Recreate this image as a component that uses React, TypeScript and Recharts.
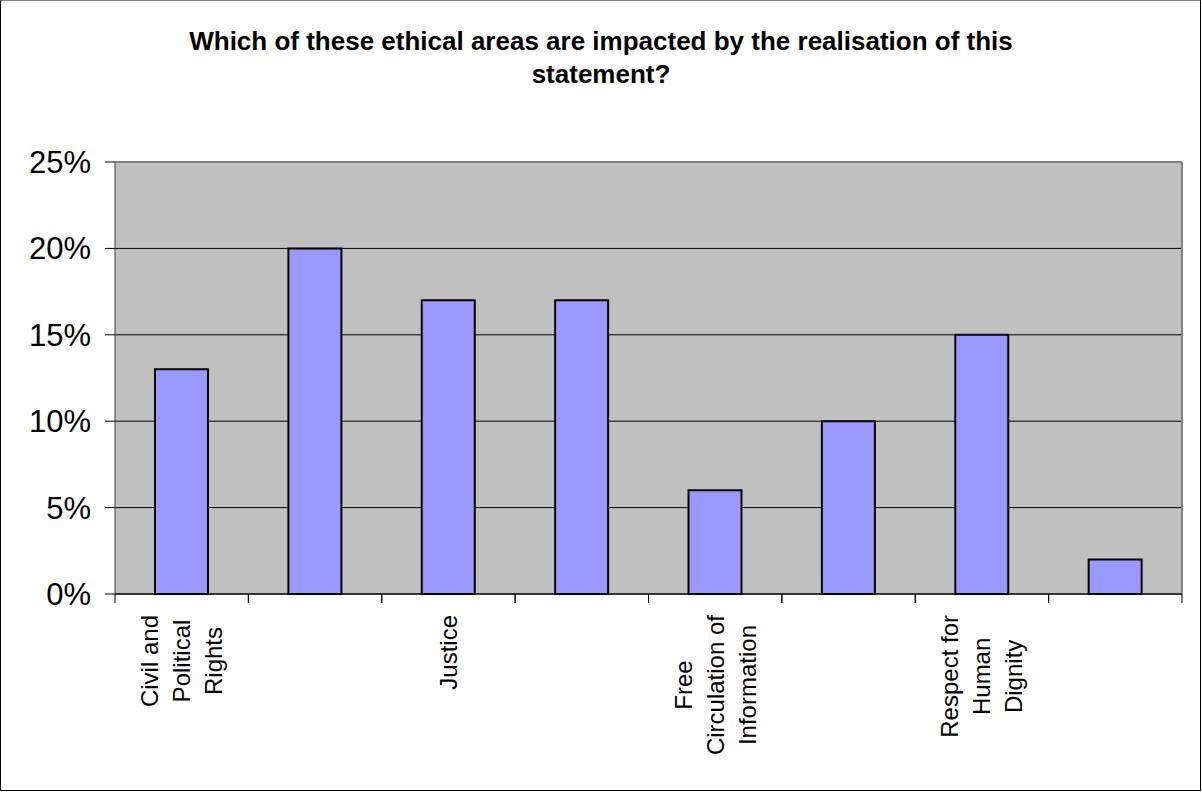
import React from 'react';
import { BarChart, Bar, XAxis, YAxis, CartesianGrid } from 'recharts';

const TITLE = 'Which of these ethical areas are impacted by the realisation of this statement?';
const categories = [
  'Civil and Political Rights',
  '',
  'Justice',
  '',
  'Free Circulation of Information',
  '',
  'Respect for Human Dignity',
  '',
];
const values = [0.13, 0.2, 0.17, 0.17, 0.06, 0.1, 0.15, 0.02];
const yTicks = [0, 0.05, 0.1, 0.15, 0.2, 0.25];

const data = categories.map((name, i) => ({ idx: i, name, value: values[i] }));

const FONT = "'Liberation Sans', Arial, sans-serif";
const LABEL_FONT = `24px ${FONT}`;

let ctx: CanvasRenderingContext2D | null = null;
function measure(text: string, font: string): number {
  if (!ctx) ctx = document.createElement('canvas').getContext('2d');
  if (!ctx) return text.length * 12;
  ctx.font = font;
  return ctx.measureText(text).width;
}

function wrap(text: string, maxW: number, font: string): string[] {
  const words = text.split(' ');
  const lines: string[] = [];
  let cur = '';
  for (const w of words) {
    const t = cur ? cur + ' ' + w : w;
    if (cur && measure(t, font) > maxW) {
      lines.push(cur);
      cur = w;
    } else cur = t;
  }
  if (cur) lines.push(cur);
  return lines;
}

function CategoryTick(props: any) {
  const { x, y, payload, width } = props;
  const half =
    payload && typeof payload.offset === 'number' && payload.offset > 0
      ? payload.offset
      : width / categories.length / 2;
  const label = categories[payload.value] ?? '';
  const lines = label ? wrap(label, 150, LABEL_FONT) : [];
  const maxLen = lines.length ? Math.max(...lines.map((l) => measure(l, LABEL_FONT))) : 0;
  const midY = y + 21 + maxLen / 2;
  return (
    <g>
      <line x1={x - half} x2={x - half} y1={y} y2={y + 9} stroke="#000" strokeWidth={1} />
      <line x1={x + half} x2={x + half} y1={y} y2={y + 9} stroke="#000" strokeWidth={1} />
      {lines.map((l, i) => {
        const lx = x + (i - (lines.length - 1) / 2) * 32;
        return (
          <text
            key={i}
            x={lx}
            y={midY}
            transform={`rotate(-90 ${lx} ${midY})`}
            textAnchor="middle"
            dominantBaseline="central"
            fontSize={24}
            fontFamily={FONT}
            fill="#000"
          >
            {l}
          </text>
        );
      })}
    </g>
  );
}

export default function App() {
  return (
    <div style={{ position: 'absolute', left: 0, top: 0, width: 1202, height: 792, background: '#fff' }}>
      <BarChart
        width={1202}
        height={792}
        data={data}
        margin={{ top: 162, right: 20, bottom: 8, left: 10 }}
        barCategoryGap="30%"
      >
        <CartesianGrid fill="#C0C0C0" vertical={false} stroke="#000" strokeWidth={1} />
        <CartesianGrid
          fill="none"
          stroke="#808080"
          strokeWidth={2}
          horizontalCoordinatesGenerator={({ offset }: any) => [offset.top]}
          verticalCoordinatesGenerator={({ offset }: any) => [offset.left + offset.width]}
        />
        <XAxis
          dataKey="idx"
          type="category"
          interval={0}
          tickSize={0}
          tickMargin={0}
          height={190}
          tickLine={false}
          axisLine={{ stroke: '#000', strokeWidth: 1 }}
          tick={(p: any) => <CategoryTick {...p} />}
        />
        <YAxis
          domain={[0, 0.25]}
          ticks={yTicks}
          interval={0}
          width={105}
          tickSize={10}
          tickMargin={14}
          tickFormatter={(v: number) => `${Math.round(v * 100)}%`}
          tick={{ fontSize: 31, fill: '#000', fontFamily: FONT }}
          axisLine={{ stroke: '#404040', strokeWidth: 1 }}
          tickLine={{ stroke: '#000', strokeWidth: 1 }}
        />
        <Bar dataKey="value" fill="#9999FF" stroke="#000" strokeWidth={2} isAnimationActive={false} />
      </BarChart>
      <div
        style={{
          position: 'absolute',
          left: 0,
          top: 25,
          width: 1202,
          boxSizing: 'border-box',
          padding: '0 150px',
          textAlign: 'center',
          fontFamily: FONT,
          fontWeight: 'bold',
          fontSize: 26,
          lineHeight: '33px',
          color: '#000',
        }}
      >
        {TITLE}
      </div>
      <div
        style={{
          position: 'absolute',
          left: 0,
          top: 0,
          width: 1201,
          height: 791,
          boxSizing: 'border-box',
          border: '1px solid #000',
          borderTopColor: '#808080',
          pointerEvents: 'none',
        }}
      />
    </div>
  );
}
